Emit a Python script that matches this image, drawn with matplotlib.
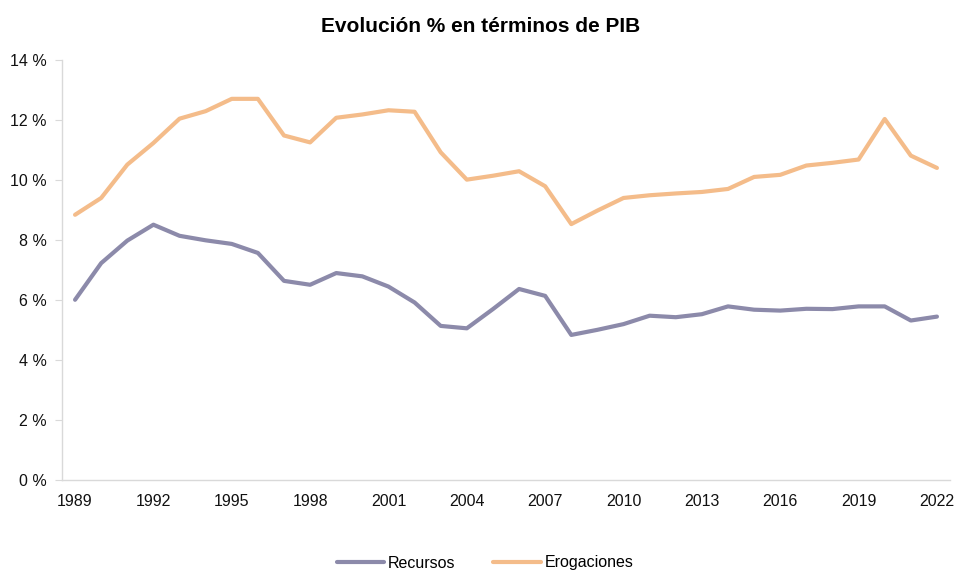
import matplotlib
matplotlib.use("Agg")
import matplotlib.pyplot as plt

years = list(range(1989, 2023))
recursos = [6.0, 7.22, 7.97, 8.5, 8.13, 7.98, 7.86, 7.56, 6.63, 6.5, 6.89, 6.78,
            6.44, 5.91, 5.13, 5.05, 5.69, 6.36, 6.13, 4.83, 5.0, 5.19, 5.47, 5.42,
            5.52, 5.78, 5.67, 5.64, 5.7, 5.69, 5.78, 5.78, 5.31, 5.44]
erogaciones = [8.83, 9.39, 10.5, 11.22, 12.03, 12.28, 12.69, 12.69, 11.47, 11.24,
               12.06, 12.17, 12.31, 12.26, 10.91, 10.0, 10.13, 10.28, 9.78, 8.52,
               8.97, 9.39, 9.48, 9.54, 9.59, 9.69, 10.09, 10.16, 10.47, 10.56,
               10.67, 12.02, 10.8, 10.39]
xticks = list(range(1989, 2023, 3))
yticks = [0, 2, 4, 6, 8, 10, 12, 14]
title = "Evolución % en términos de PIB"

plt.rcParams['font.family'] = ['Liberation Sans', 'DejaVu Sans']

fig = plt.figure(figsize=(9.56, 5.70), dpi=100)
ax = fig.add_axes([62/956, 1-480/570, (950-62)/956, (480-59.5)/570])

ax.plot(years, recursos, color='#8C8AAA', lw=3.0, label='Recursos', solid_capstyle='round')
ax.plot(years, erogaciones, color='#F4BC8A', lw=3.0, label='Erogaciones', solid_capstyle='round')

ax.set_xlim(1988.5, 2022.5)
ax.set_ylim(0, 14)
ax.set_xticks(xticks)
ax.set_xticklabels([str(x) for x in xticks], fontsize=11.5)
ax.set_yticks(yticks)
ax.set_yticklabels([f"{v} %" for v in yticks], fontsize=11.5)

for s in ['top', 'right']:
    ax.spines[s].set_visible(False)
for s in ['left', 'bottom']:
    ax.spines[s].set_color('#D9D9D9')
    ax.spines[s].set_linewidth(1.0)
ax.tick_params(axis='y', length=5, color='#D9D9D9', pad=6, labelcolor='#111111')
ax.tick_params(axis='x', length=0, pad=10, labelcolor='#111111')

fig.text(481/956, 1-27/570, title, ha='center', va='center', fontsize=15, fontweight='bold')

fig.legend(loc='center', bbox_to_anchor=(485/956, 1-563/570), ncol=2, frameon=False,
           fontsize=11.5, handlelength=3.0, columnspacing=2.4, handletextpad=0.2)

fig.savefig('out.png', dpi=100)
